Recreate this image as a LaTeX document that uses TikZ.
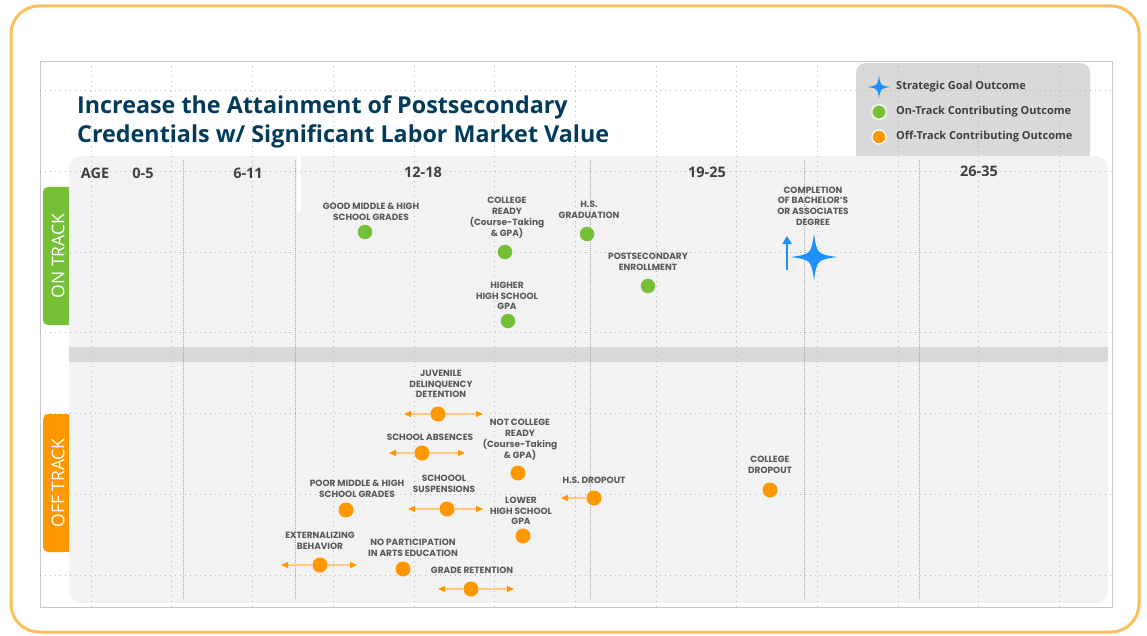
\documentclass[tikz,border=0pt]{standalone}
\usepackage{fontspec}
\setmainfont{Open Sans}
\newfontfamily\lblfont{Poppins}
\usetikzlibrary{arrows.meta}
\definecolor{titleblue}{RGB}{0,59,92}
\definecolor{ongreen}{RGB}{118,192,56}
\definecolor{offorange}{RGB}{255,152,0}
\definecolor{lightorange}{RGB}{252,200,130}
\definecolor{goalblue}{RGB}{30,144,255}
\definecolor{panelgray}{RGB}{242,242,242}
\definecolor{bandgray}{RGB}{217,217,217}
\definecolor{labelgray}{RGB}{89,89,89}
\definecolor{agegray}{RGB}{64,64,64}
\definecolor{bordero}{RGB}{255,190,90}

\begin{document}
\begin{tikzpicture}[x=1pt,y=-1pt,
  lbl/.style={font=\lblfont\bfseries\fontsize{9}{10.6}\selectfont,text=labelgray,align=center,inner sep=0},
  ondot/.style={circle,fill=ongreen,minimum size=14.5pt,inner sep=0},
  offdot/.style={circle,fill=offorange,minimum size=15pt,inner sep=0},
  offarrow/.style={draw=lightorange,line width=1.2pt,-{Triangle[length=7pt,width=6pt,color=offorange]}},
  goalstar/.style={fill=goalblue},
  age/.style={font=\bfseries\fontsize{14.5}{14.5}\selectfont,text=agegray},
  tab/.style={rounded corners=5pt,text=white,font=\fontsize{17.5}{17.5}\selectfont,minimum width=138pt,minimum height=30pt,rotate=90},
  legtxt/.style={font=\bfseries\fontsize{11}{11}\selectfont,text=agegray,anchor=west,inner sep=0},
  griddot/.style={draw=black!28,line width=0.6pt,dash pattern=on 0.7pt off 4.3pt},
  agesep/.style={draw=black!35,line width=0.8pt,dash pattern=on 0.8pt off 1.2pt}]
    \useasboundingbox (0,0) rectangle (1147,636);
    %frame and panels
    \draw [bordero,line width=3pt,rounded corners=28pt] (11,6) rectangle (1139,632);
    \draw [black!22,line width=0.8pt] (40,61) rectangle (1112,607);
    \fill [bandgray,rounded corners=10pt] (856,63) rectangle (1090,175);
    \node (ontab) at (58,256) [tab,fill=ongreen]{ON TRACK};
    \node (offtab) at (58,483) [tab,fill=offorange]{OFF TRACK};
    \fill [panelgray,rounded corners=12pt] (69,156) rectangle (1108,603);
    \fill [bandgray] (69,347) rectangle (1108,362);
    \fill [white] (297,156) rectangle (301,212);

    %grid
    \foreach \x in {0,...,12} \draw [griddot] ({91+80.7*\x},61) -- ({91+80.7*\x},607);
    \foreach \y in {90,171,252,332,413,494,575} \draw [griddot] (40,\y) -- (1112,\y);
    \foreach \x in {183,295,590,804,919} \draw [agesep] (\x,160) -- (\x,600);

    %title and legend
    \node (title) at (77,122) [anchor=west,align=left,text=titleblue,font=\bfseries\fontsize{23.3}{28.5}\selectfont,inner sep=0]{Increase the Attainment of Postsecondary\\Credentials w/ Significant Labor Market Value};
    \coordinate (legstar) at (879,87);
    \fill [goalstar,shift={(legstar)},scale=0.5] (0,-23) .. controls (3,-3) .. (23,0) .. controls (3,3) .. (0,23) .. controls (-3,3) .. (-23,0) .. controls (-3,-3) .. (0,-23) -- cycle;
    \node (legon) at (879,112) [ondot,draw=white,line width=1.2pt]{};
    \node (legoff) at (879,137) [offdot,draw=white,line width=1.2pt,minimum size=14pt]{};
    \node (legstarT) at (896,87) [legtxt]{Strategic Goal Outcome};
    \node (legonT) at (896,112) [legtxt]{On-Track Contributing Outcome};
    \node (legoffT) at (896,137) [legtxt]{Off-Track Contributing Outcome};

    %ages
    \node (ageA) at (95,173) [age]{AGE};
    \node (age1) at (143,173) [age]{0-5};
    \node (age2) at (248,173) [age]{6-11};
    \node (age3) at (423,172) [age]{12-18};
    \node (age4) at (707,172) [age]{19-25};
    \node (age5) at (979,171) [age]{26-35};

    %on track outcomes
    \node (gmh) at (365,232) [ondot]{};
    \node (cr) at (505,252) [ondot]{};
    \node (hsg) at (587,234) [ondot]{};
    \node (ps) at (648,286) [ondot]{};
    \node (hg) at (508,321) [ondot]{};
    \coordinate (goal) at (814,257);
    \fill [goalstar,shift={(goal)}] (0,-23) .. controls (3,-3) .. (23,0) .. controls (3,3) .. (0,23) .. controls (-3,3) .. (-23,0) .. controls (-3,-3) .. (0,-23) -- cycle;
    \node (gmhT) at (371,212) [lbl]{GOOD MIDDLE \& HIGH\\SCHOOL GRADES};
    \node (crT) at (507,218) [lbl]{COLLEGE\\READY\\(Course-Taking\\\& GPA)};
    \node (hsgT) at (589,210) [lbl]{H.S.\\GRADUATION};
    \node (psT) at (648,262) [lbl]{POSTSECONDARY\\ENROLLMENT};
    \node (hgT) at (507,296) [lbl]{HIGHER\\HIGH SCHOOL\\GPA};
    \node (goalT) at (813,206) [lbl]{COMPLETION\\OF BACHELOR’S\\OR ASSOCIATES\\DEGREE};
    \coordinate (upA) at (787,270);
    \coordinate (upB) at (787,236);
    \draw [goalblue,line width=2.5pt,-{Triangle[length=8pt,width=9pt]}] (upA) -- (upB);

    %off track outcomes
    \node (jd) at (438,414) [offdot]{};
    \node (sa) at (422,453) [offdot]{};
    \node (nc) at (518,473) [offdot]{};
    \node (ss) at (447,509) [offdot]{};
    \node (hsd) at (594,498) [offdot]{};
    \node (lg) at (523,536) [offdot]{};
    \node (pm) at (346,510) [offdot]{};
    \node (eb) at (320,565) [offdot]{};
    \node (na) at (403,569) [offdot]{};
    \node (gr) at (471,589) [offdot]{};
    \node (cd) at (770,490) [offdot]{};
    \node (jdT) at (441,384) [lbl]{JUVENILE\\DELINQUENCY\\DETENTION};
    \node (saT) at (430,437) [lbl]{SCHOOL ABSENCES};
    \node (ncT) at (520,440) [lbl]{NOT COLLEGE\\READY\\(Course-Taking\\\& GPA)};
    \node (ssT) at (444,484) [lbl]{SCHOOOL\\SUSPENSIONS};
    \node (hsdT) at (594,480) [lbl]{H.S. DROPOUT};
    \node (lgT) at (521,511) [lbl]{LOWER\\HIGH SCHOOL\\GPA};
    \node (pmT) at (357,489) [lbl]{POOR MIDDLE \& HIGH\\SCHOOL GRADES};
    \node (ebT) at (320,541) [lbl]{EXTERNALIZING\\BEHAVIOR};
    \node (naT) at (413,548) [lbl]{NO PARTICIPATION\\IN ARTS EDUCATION};
    \node (grT) at (472,570) [lbl]{GRADE RETENTION};
    \node (cdT) at (770,465) [lbl]{COLLEGE\\DROPOUT};

    \coordinate (jdL) at (404,414); \coordinate (jdR) at (483,414);
    \coordinate (saL) at (389,453); \coordinate (saR) at (465,453);
    \coordinate (ssL) at (408,509); \coordinate (ssR) at (483,509);
    \coordinate (hsdL) at (561,498);
    \coordinate (ebL) at (281,565); \coordinate (ebR) at (357,565);
    \coordinate (grL) at (438,589); \coordinate (grR) at (514,589);
    \draw [offarrow] (jd) -- (jdL);
    \draw [offarrow] (jd) -- (jdR);
    \draw [offarrow] (sa) -- (saL);
    \draw [offarrow] (sa) -- (saR);
    \draw [offarrow] (ss) -- (ssL);
    \draw [offarrow] (ss) -- (ssR);
    \draw [offarrow] (hsd) -- (hsdL);
    \draw [offarrow] (eb) -- (ebL);
    \draw [offarrow] (eb) -- (ebR);
    \draw [offarrow] (gr) -- (grL);
    \draw [offarrow] (gr) -- (grR);
\end{tikzpicture}
\end{document}
